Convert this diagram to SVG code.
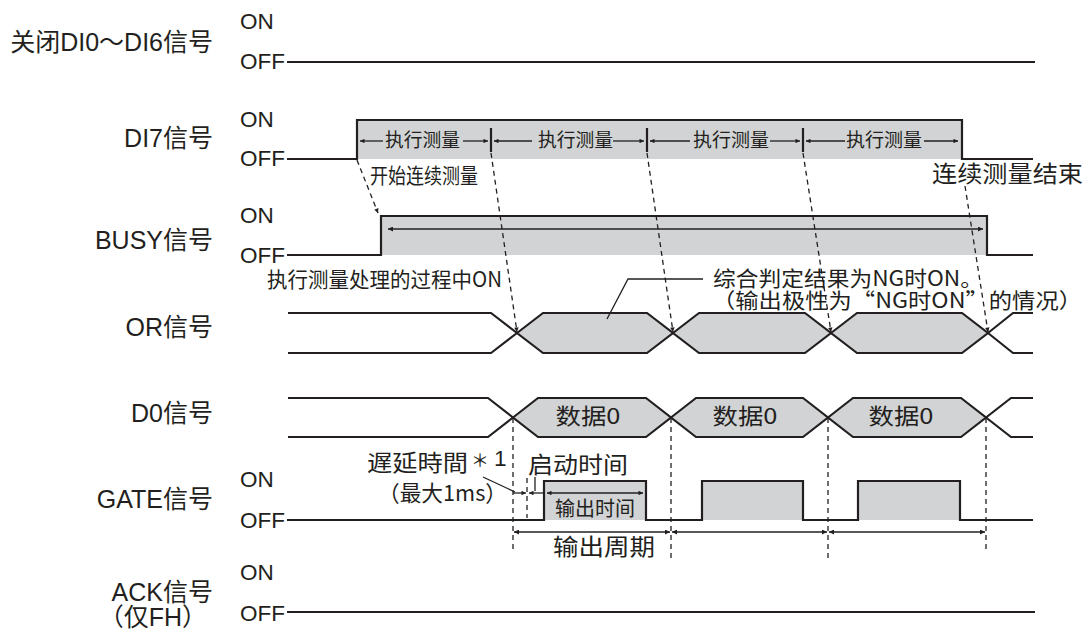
<svg xmlns="http://www.w3.org/2000/svg" width="1085" height="630" viewBox="0 0 1085 630">
<style>
.lbl{font-family:"Liberation Sans","Noto Sans CJK SC",sans-serif;font-size:25px;fill:#231f20;text-anchor:end}
.oo{font-family:"Liberation Sans",Arial,sans-serif;font-size:22.5px;fill:#231f20}
.cj{font-family:"Noto Sans CJK SC","Liberation Sans",sans-serif;fill:#231f20}
.sig{fill:none;stroke:#231f20;stroke-width:2.2}
.fillg{fill:#d1d3d4;stroke:none}
.hex{fill:#d1d3d4;stroke:#231f20;stroke-width:2.2}
.thin{fill:none;stroke:#231f20;stroke-width:1.3}
.dash{fill:none;stroke:#231f20;stroke-width:1.3;stroke-dasharray:5,4}
</style>
<defs>
<marker id="ah" viewBox="0 0 10 10" refX="10" refY="5" markerWidth="9" markerHeight="5" markerUnits="userSpaceOnUse" orient="auto-start-reverse">
<path d="M0,0 L10,5 L0,10 z" fill="#231f20"/>
</marker>
<marker id="as" viewBox="0 0 10 10" refX="10" refY="5" markerWidth="7" markerHeight="4.5" markerUnits="userSpaceOnUse" orient="auto-start-reverse">
<path d="M0,0 L10,5 L0,10 z" fill="#231f20"/>
</marker>
</defs>
<rect width="1085" height="630" fill="#ffffff"/>

<g id="row-di06">
<text class="lbl" x="213" y="51">关闭DI0～DI6信号</text>
<text class="oo" x="240" y="29">ON</text>
<text class="oo" x="240" y="69">OFF</text>
<path class="sig" d="M287 62 H1035"/>
</g>

<g id="row-di7">
<text class="lbl" x="213" y="147">DI7信号</text>
<text class="oo" x="240" y="127">ON</text>
<text class="oo" x="240" y="166">OFF</text>
<rect class="fillg" x="357" y="120" width="605" height="39"/>
<path class="sig" d="M287 159 H357 V120 H962 V159 H1033"/>
<path class="sig" d="M491 128 V152 M647 128 V152 M803 128 V152" stroke-width="2"/>
<path class="thin" marker-end="url(#as)" d="M383 141 H360"/>
<path class="thin" marker-end="url(#as)" d="M463 141 H488"/>
<path class="thin" marker-end="url(#as)" d="M532 141 H494"/>
<path class="thin" marker-end="url(#as)" d="M613 141 H644"/>
<path class="thin" marker-end="url(#as)" d="M690 141 H650"/>
<path class="thin" marker-end="url(#as)" d="M770 141 H800"/>
<path class="thin" marker-end="url(#as)" d="M845 141 H806"/>
<path class="thin" marker-end="url(#as)" d="M924 141 H958"/>
<text class="cj" font-size="19" x="385" y="147" textLength="75" lengthAdjust="spacingAndGlyphs">执行测量</text>
<text class="cj" font-size="19" x="538" y="147" textLength="75" lengthAdjust="spacingAndGlyphs">执行测量</text>
<text class="cj" font-size="19" x="693" y="147" textLength="76" lengthAdjust="spacingAndGlyphs">执行测量</text>
<text class="cj" font-size="19" x="846" y="147" textLength="76" lengthAdjust="spacingAndGlyphs">执行测量</text>
<text class="cj" font-size="21" x="370" y="183" textLength="108" lengthAdjust="spacingAndGlyphs">开始连续测量</text>
<text class="cj" font-size="23" x="932" y="182" textLength="151" lengthAdjust="spacingAndGlyphs">连续测量结束</text>
</g>

<g id="row-busy">
<text class="lbl" x="213" y="249">BUSY信号</text>
<text class="oo" x="240" y="223">ON</text>
<text class="oo" x="240" y="263">OFF</text>
<rect class="fillg" x="381" y="216" width="606" height="39"/>
<path class="sig" d="M287 255 H381 V216 H987 V255 H1033"/>
<path class="thin" marker-start="url(#ah)" marker-end="url(#ah)" d="M388 229 H983"/>
<text class="cj" font-size="21" x="267" y="287" textLength="235" lengthAdjust="spacingAndGlyphs">执行测量处理的过程中ON</text>
</g>

<g id="row-or">
<text class="lbl" x="213" y="336">OR信号</text>
<polygon class="hex" points="517,333 543,313 647,313 673,333 647,353 543,353"/>
<polygon class="hex" points="673,333 699,313 805,313 831,333 805,353 699,353"/>
<polygon class="hex" points="831,333 857,313 962,313 988,333 962,353 857,353"/>
<path class="sig" d="M288 313 H491 L517 333 M288 353 H491 L517 333 M988 333 L1013 313 H1033 M988 333 L1013 353 H1033"/>
<path class="thin" d="M607 319 L628 279 H703"/>
<text class="cj" font-size="21" x="713" y="286" textLength="270" lengthAdjust="spacingAndGlyphs">综合判定结果为NG时ON。</text>
<text class="cj" font-size="21" x="712" y="308" textLength="370" lengthAdjust="spacingAndGlyphs">（输出极性为“NG时ON”的情况）</text>
</g>

<g id="row-d0">
<text class="lbl" x="213" y="422">D0信号</text>
<polygon class="hex" points="513,417.5 538,398 646,398 671,417.5 646,437 538,437"/>
<polygon class="hex" points="671,417.5 696,398 803,398 828,417.5 803,437 696,437"/>
<polygon class="hex" points="828,417.5 853,398 961,398 986,417.5 961,437 853,437"/>
<path class="sig" d="M288 398 H488 L513 417.5 M288 437 H488 L513 417.5 M986 417.5 L1011 398 H1033 M986 417.5 L1011 437 H1033"/>
<text class="cj" font-size="22" x="588" y="424" text-anchor="middle" textLength="65" lengthAdjust="spacingAndGlyphs">数据0</text>
<text class="cj" font-size="22" x="745" y="424" text-anchor="middle" textLength="65" lengthAdjust="spacingAndGlyphs">数据0</text>
<text class="cj" font-size="22" x="901" y="424" text-anchor="middle" textLength="65" lengthAdjust="spacingAndGlyphs">数据0</text>
</g>

<g id="row-gate">
<text class="lbl" x="213" y="508">GATE信号</text>
<text class="oo" x="240" y="487">ON</text>
<text class="oo" x="240" y="528">OFF</text>
<rect class="fillg" x="544" y="481" width="102" height="39"/>
<rect class="fillg" x="702" y="481" width="101" height="39"/>
<rect class="fillg" x="858" y="481" width="102" height="39"/>
<path class="sig" d="M287 520 H544 V481 H646 V520 H702 V481 H803 V520 H858 V481 H960 V520 H1033"/>
<path class="thin" marker-start="url(#as)" marker-end="url(#as)" d="M547 493 H643"/>
<text class="cj" font-size="20" x="555" y="516" textLength="80" lengthAdjust="spacingAndGlyphs">输出时间</text>
<path class="thin" marker-end="url(#as)" d="M513 493 H526"/>
<path class="thin" marker-end="url(#as)" d="M544 493 H529"/>
<path class="thin" d="M483 477 L515 492"/>
<path class="thin" d="M535 477 V491"/>
<text class="cj" font-size="23" x="367" y="471" textLength="101" lengthAdjust="spacingAndGlyphs">遅延時間</text>
<text class="cj" font-size="18" x="471" y="467">＊</text>
<text class="oo" font-size="19" x="494" y="466">1</text>
<text class="cj" font-size="22" x="378" y="501" textLength="129" lengthAdjust="spacingAndGlyphs">（最大1ms）</text>
<text class="cj" font-size="23" x="528" y="473" textLength="100" lengthAdjust="spacingAndGlyphs">启动时间</text>
<path class="thin" marker-start="url(#ah)" marker-end="url(#ah)" d="M514 532 H670"/>
<path class="thin" marker-start="url(#ah)" marker-end="url(#ah)" d="M672 532 H827"/>
<path class="thin" marker-start="url(#ah)" marker-end="url(#ah)" d="M829 532 H985"/>
<text class="cj" font-size="23" x="553" y="555" textLength="102" lengthAdjust="spacingAndGlyphs">输出周期</text>
</g>

<g id="row-ack">
<text class="lbl" x="213" y="601">ACK信号</text>
<text class="lbl" x="207" y="626" font-size="23">（仅FH）</text>
<text class="oo" x="240" y="580">ON</text>
<text class="oo" x="240" y="621">OFF</text>
<path class="sig" d="M287 612 H1035"/>
</g>

<g id="connectors">
<path class="dash" marker-end="url(#as)" d="M357 160 L378 213"/>
<path class="dash" marker-end="url(#as)" d="M491 153 L517 332"/>
<path class="dash" marker-end="url(#as)" d="M647 153 L673 332"/>
<path class="dash" marker-end="url(#as)" d="M803 153 L831 332"/>
<path class="dash" marker-end="url(#as)" d="M965 186 L988 332"/>
<path class="dash" d="M513 418 V550 M527 478 V518 M671 418 V560 M828 418 V560 M986 418 V550"/>
</g>
</svg>
